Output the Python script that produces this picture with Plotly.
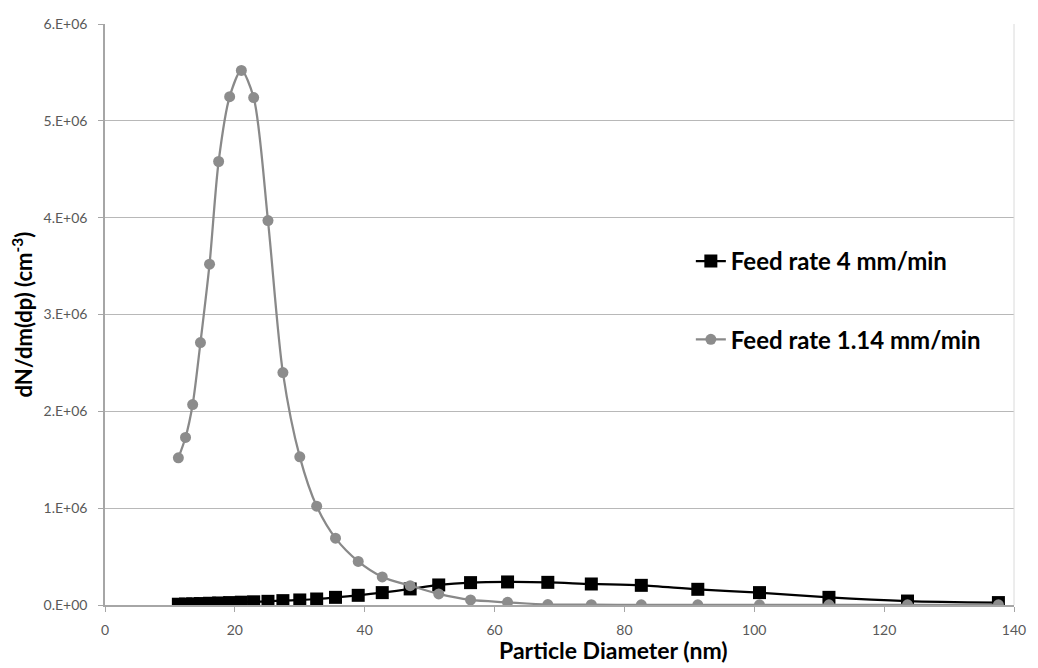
import plotly.graph_objects as go

diameter_nm = [11.3, 12.4, 13.5, 14.7, 16.1, 17.5, 19.2, 21.0, 22.9, 25.1, 27.4, 30.0,
               32.6, 35.5, 39.0, 42.7, 47.0, 51.4, 56.3, 62.0, 68.2, 74.9, 82.6, 91.3,
               100.8, 111.5, 123.6, 137.6]

feed_4 = [0.008e6, 0.010e6, 0.012e6, 0.015e6, 0.018e6, 0.021e6, 0.025e6, 0.029e6,
          0.033e6, 0.038e6, 0.045e6, 0.052e6, 0.062e6, 0.079e6, 0.100e6, 0.128e6,
          0.166e6, 0.207e6, 0.231e6, 0.238e6, 0.234e6, 0.217e6, 0.203e6, 0.162e6,
          0.128e6, 0.079e6, 0.041e6, 0.025e6]

feed_114 = [1.52e6, 1.73e6, 2.07e6, 2.71e6, 3.52e6, 4.58e6, 5.25e6, 5.52e6, 5.24e6,
            3.97e6, 2.40e6, 1.53e6, 1.02e6, 0.69e6, 0.45e6, 0.29e6, 0.20e6, 0.114e6,
            0.052e6, 0.028e6, 0.005e6, 0.003e6, 0.002e6, 0.002e6, 0.002e6, 0.002e6,
            0.002e6, 0.002e6]

y_tickvals = [0, 1e6, 2e6, 3e6, 4e6, 5e6, 6e6]
y_ticktext = ["0.E+00", "1.E+06", "2.E+06", "3.E+06", "4.E+06", "5.E+06", "6.E+06"]
x_tickvals = [0, 20, 40, 60, 80, 100, 120, 140]

FONT = "Lato"

fig = go.Figure()
fig.add_trace(go.Scatter(
    x=diameter_nm, y=feed_4, mode="lines+markers", name="Feed rate 4 mm/min",
    line=dict(color="#000000", width=2.25, shape="spline", smoothing=0.8),
    marker=dict(symbol="square", size=13, color="#000000"),
    legendgroup="a",
))
fig.add_trace(go.Scatter(
    x=diameter_nm, y=feed_114, mode="lines+markers", name="Feed rate 1.14 mm/min",
    line=dict(color="#898989", width=2.25, shape="spline", smoothing=0.8),
    marker=dict(symbol="circle", size=11, color="#8c8c8c"),
    legendgroup="b",
))

fig.update_layout(
    width=1038, height=668,
    margin=dict(l=105, r=13, t=24, b=63),
    paper_bgcolor="white", plot_bgcolor="white",
    font=dict(family=FONT, color="#000000"),
    legend=dict(
        x=0.6445, y=0.630, xanchor="left", yanchor="top",
        font=dict(family=FONT, size=24, color="#000000", weight="bold"),
        tracegroupgap=44, itemwidth=30, traceorder="grouped",
        bgcolor="rgba(0,0,0,0)",
    ),
    showlegend=True,
    shapes=[dict(type="line", xref="paper", yref="paper", x0=1, x1=1, y0=0, y1=1,
                 line=dict(color="#dadada", width=1))],
    annotations=[
        dict(text="Particle Diameter (nm)", xref="paper", yref="paper",
             x=0.559, y=-0.078, xanchor="center", yanchor="middle", showarrow=False,
             font=dict(family=FONT, size=23, color="#000000", weight="bold")),
        dict(text="dN/dm(dp) (cm<sup>-3</sup>)", xref="paper", yref="paper",
             x=-0.0913, y=0.5, xanchor="center", yanchor="middle", showarrow=False,
             textangle=-90,
             font=dict(family=FONT, size=22, color="#000000", weight="bold")),
    ],
)
fig.update_xaxes(
    range=[0, 140], tickvals=x_tickvals, ticks="outside", ticklen=5,
    tickcolor="#a6a6a6", showline=True, linecolor="#a6a6a6", linewidth=1.5,
    showgrid=False, zeroline=False, ticklabelstandoff=6,
    tickfont=dict(family=FONT, size=14, color="#595959"),
)
fig.update_yaxes(
    range=[0, 6e6], tickvals=y_tickvals, ticktext=y_ticktext, ticks="outside",
    ticklen=5, tickcolor="#a6a6a6", showline=True, linecolor="#a6a6a6", linewidth=1.5,
    showgrid=True, gridcolor="#b8b8b8", gridwidth=1.3, zeroline=False,
    ticklabelstandoff=8,
    tickfont=dict(family=FONT, size=14, color="#595959"),
)

fig.write_html(
    "out.html",
    config={"displayModeBar": False},
    post_script="document.body.style.margin='0px';document.body.style.overflow='hidden';",
)
